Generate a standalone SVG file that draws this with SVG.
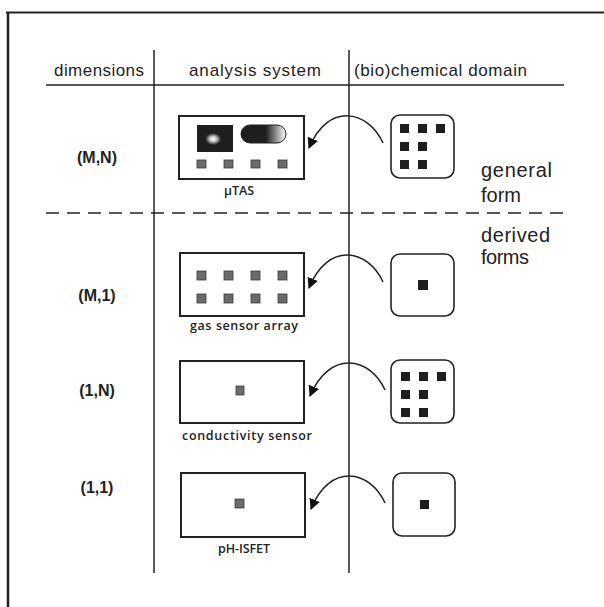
<svg xmlns="http://www.w3.org/2000/svg" width="604" height="607" viewBox="0 0 604 607">
<style>
.hdr{font-family:"Liberation Sans",Arial,sans-serif;font-size:17px;fill:#222}
.dim{font-family:"Liberation Sans",Arial,sans-serif;font-size:16px;font-weight:bold;fill:#222;text-anchor:middle}
.cap{font-family:"Open Sans","Liberation Sans",Arial,sans-serif;font-size:12.5px;font-weight:600;fill:#222;text-anchor:middle}
.side{font-family:"Liberation Sans",Arial,sans-serif;font-size:20px;fill:#222}
.rule{stroke:#222;stroke-width:1.5;fill:none}
.sys{fill:#fff;stroke:#222;stroke-width:2}
.dom{fill:#fff;stroke:#222;stroke-width:1.6}
.sen{fill:#6b6b6b;stroke:#3a3a3a;stroke-width:0.8}
.blk{fill:#1e1e1e}
.arc{fill:none;stroke:#222;stroke-width:1.5;marker-end:url(#ah)}
</style>
<defs>
<marker id="ah" viewBox="0 0 10 10" refX="9" refY="5" markerWidth="11" markerHeight="11" markerUnits="userSpaceOnUse" orient="auto">
<path d="M0,0 L10,5 L0,10 z" fill="#111"/>
</marker>
<radialGradient id="glow" cx="0.45" cy="0.52" r="0.22">
<stop offset="0" stop-color="#fff"/>
<stop offset="0.4" stop-color="#ccc"/>
<stop offset="1" stop-color="#1e1e1e"/>
</radialGradient>
<linearGradient id="pill" x1="0" y1="0" x2="1" y2="0">
<stop offset="0" stop-color="#1e1e1e"/>
<stop offset="0.55" stop-color="#1e1e1e"/>
<stop offset="0.8" stop-color="#999"/>
<stop offset="1" stop-color="#fff"/>
</linearGradient>
</defs>
<rect width="604" height="607" fill="#fff"/>
<g id="frame">
<line x1="6" y1="12.5" x2="604" y2="12.5" stroke="#222" stroke-width="2"/>
<line x1="8" y1="12" x2="8" y2="607" stroke="#222" stroke-width="2.5"/>
</g>
<g id="table">
<line class="rule" x1="154" y1="50" x2="154" y2="573"/>
<line class="rule" x1="349" y1="50" x2="349" y2="573"/>
<line class="rule" x1="46" y1="85" x2="564" y2="85"/>
<line class="rule" x1="46" y1="213" x2="568" y2="213" stroke-dasharray="13 8"/>
<text class="hdr" x="54" y="76" textLength="90">dimensions</text>
<text class="hdr" x="189" y="76" textLength="132">analysis system</text>
<text class="hdr" x="354" y="76" textLength="173">(bio)chemical domain</text>
</g>
<g id="labels">
<text class="dim" x="97" y="163">(M,N)</text>
<text class="dim" x="97" y="301">(M,1)</text>
<text class="dim" x="97" y="396">(1,N)</text>
<text class="dim" x="97" y="493">(1,1)</text>
<text class="side" x="481" y="177" textLength="71">general</text>
<text class="side" x="481" y="202" textLength="40">form</text>
<text class="side" x="481" y="242" textLength="69">derived</text>
<text class="side" x="481" y="264" textLength="48">forms</text>
</g>
<g id="utas">
<rect class="sys" x="179" y="116" width="125" height="63"/>
<rect x="197" y="125" width="36" height="27" fill="url(#glow)"/>
<rect x="241" y="125" width="45" height="18" rx="9" fill="url(#pill)" stroke="#222" stroke-width="1"/>
<rect class="sen" x="197" y="160" width="9" height="8"/>
<rect class="sen" x="224" y="160" width="9" height="8"/>
<rect class="sen" x="251" y="160" width="9" height="8"/>
<rect class="sen" x="278" y="160" width="9" height="8"/>
<text class="cap" x="239" y="195">μTAS</text>
</g>
<g id="gas-sensor-array">
<rect class="sys" x="180" y="253" width="124" height="63"/>
<rect class="sen" x="197" y="271" width="9" height="9"/>
<rect class="sen" x="224" y="271" width="9" height="9"/>
<rect class="sen" x="251" y="271" width="9" height="9"/>
<rect class="sen" x="278" y="271" width="9" height="9"/>
<rect class="sen" x="197" y="294" width="9" height="9"/>
<rect class="sen" x="224" y="294" width="9" height="9"/>
<rect class="sen" x="251" y="294" width="9" height="9"/>
<rect class="sen" x="278" y="294" width="9" height="9"/>
<text class="cap" x="244" y="330" textLength="108">gas sensor array</text>
</g>
<g id="conductivity-sensor">
<rect class="sys" x="180" y="361" width="124" height="62"/>
<rect class="sen" x="236" y="386" width="8" height="9"/>
<text class="cap" x="247" y="440" textLength="130">conductivity sensor</text>
</g>
<g id="ph-isfet">
<rect class="sys" x="181" y="473" width="124" height="64"/>
<rect class="sen" x="235" y="499" width="9" height="9"/>
<text class="cap" x="244" y="553" textLength="52">pH-ISFET</text>
</g>
<g id="domain-mn">
<rect class="dom" x="391" y="115" width="63" height="63" rx="9"/>
<rect class="blk" x="400" y="124" width="9" height="9"/>
<rect class="blk" x="418" y="124" width="9" height="9"/>
<rect class="blk" x="436" y="124" width="9" height="9"/>
<rect class="blk" x="400" y="142" width="9" height="9"/>
<rect class="blk" x="418" y="142" width="9" height="9"/>
<rect class="blk" x="400" y="160" width="9" height="9"/>
<rect class="blk" x="418" y="160" width="9" height="9"/>
</g>
<g id="domain-m1">
<rect class="dom" x="391" y="254" width="63" height="62" rx="9"/>
<rect class="blk" x="418" y="280" width="10" height="10"/>
</g>
<g id="domain-1n">
<rect class="dom" x="391" y="360" width="63" height="63" rx="9"/>
<rect class="blk" x="401" y="372" width="9" height="9"/>
<rect class="blk" x="419" y="372" width="9" height="9"/>
<rect class="blk" x="437" y="372" width="9" height="9"/>
<rect class="blk" x="401" y="390" width="9" height="9"/>
<rect class="blk" x="419" y="390" width="9" height="9"/>
<rect class="blk" x="401" y="408" width="9" height="9"/>
<rect class="blk" x="419" y="408" width="9" height="9"/>
</g>
<g id="domain-11">
<rect class="dom" x="393" y="473" width="62" height="63" rx="9"/>
<rect class="blk" x="420" y="500" width="9" height="9"/>
</g>
<g id="connectors">
<path class="arc" d="M383,143 C368,110 328,102 309,148"/>
<path class="arc" d="M383,282 C368,249 328,241 309,288"/>
<path class="arc" d="M385,390 C370,357 330,349 310,396"/>
<path class="arc" d="M385,503 C370,470 330,462 311,509"/>
</g>
</svg>
